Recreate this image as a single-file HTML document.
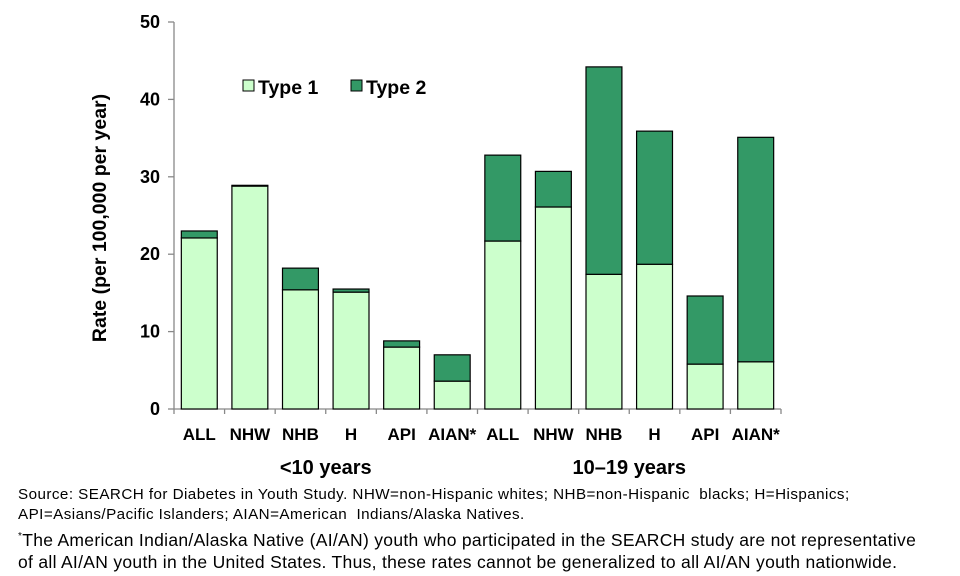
<!DOCTYPE html>
<html><head><meta charset="utf-8"><style>
body{margin:0;background:#fff;width:960px;height:576px;overflow:hidden;font-family:"Liberation Sans",Arial,sans-serif}
.note{position:absolute;left:18px;color:#000;white-space:nowrap}
</style></head><body>
<svg id="chart" width="960" height="576" style="position:absolute;left:0;top:0" font-family="Liberation Sans, Arial, sans-serif"></svg>
<div class="note" style="top:485px;font-size:15.2px;letter-spacing:0.45px;line-height:20px">Source: SEARCH for Diabetes in Youth Study. NHW=non-Hispanic whites; NHB=non-Hispanic&nbsp; blacks; H=Hispanics;<br>API=Asians/Pacific Islanders; AIAN=American&nbsp; Indians/Alaska Natives.</div>
<div class="note" style="top:526px;font-size:17.5px;letter-spacing:0.3px;line-height:22px"><sup style="font-size:10px">*</sup>The American Indian/Alaska Native (AI/AN) youth who participated in the SEARCH study are not representative<br>of all AI/AN youth in the United States. Thus, these rates cannot be generalized to all AI/AN youth nationwide.</div>
<script>
const categories=["ALL","NHW","NHB","H","API","AIAN*","ALL","NHW","NHB","H","API","AIAN*"];
const type1=[22.1,28.8,15.4,15.1,8.0,3.6,21.7,26.1,17.4,18.7,5.8,6.1];
const type2=[0.9,0.1,2.8,0.4,0.8,3.4,11.1,4.6,26.8,17.2,8.8,29.0];
const yTicks=[0,10,20,30,40,50];
const groups=["<10 years","10–19 years"];
const svg=document.getElementById('chart');
const NS="http://www.w3.org/2000/svg";
const x0=174,x1=781,y0=409,yTop=22,ymax=50;
const bw=(x1-x0)/categories.length;
const y=v=>y0-(v/ymax)*(y0-yTop);
const xc=i=>x0+bw*(i+0.5);
function mk(t,a){const e=document.createElementNS(NS,t);for(const k in a)e.setAttribute(k,a[k]);svg.appendChild(e);return e;}
let e;
e=mk('line',{x1:x0,y1:yTop,x2:x0,y2:y0,stroke:'#888','stroke-width':1.3});


e=mk('line',{x1:x0,y1:y0,x2:x1,y2:y0,stroke:'#888','stroke-width':1.3});


yTicks.forEach(v=>{
 e=mk('line',{x1:x0-6,y1:y(v),x2:x0,y2:y(v),stroke:'#888','stroke-width':1.3});
 
 
 e=mk('text',{x:x0-14,y:y(v)+6,'text-anchor':'end','font-size':18,'font-weight':'bold'});
 e.textContent=v;
 
 
});
for(let i=0;i<=categories.length;i++){
 e=mk('line',{x1:x0+bw*i,y1:y0,x2:x0+bw*i,y2:y0+5,stroke:'#888','stroke-width':1.3});
 
 
}
const w=bw*0.71;
categories.forEach((c,i)=>{
 const xl=xc(i)-w/2;
 e=mk('rect',{x:xl,y:y(type1[i]),width:w,height:y0-y(type1[i]),fill:'#ccffcc',stroke:'#000','stroke-width':1.2});
 
 
 e=mk('rect',{x:xl,y:y(type1[i]+type2[i]),width:w,height:y(type1[i])-y(type1[i]+type2[i]),fill:'#339966',stroke:'#000','stroke-width':1.2});
 
 
 e=mk('text',{x:xc(i),y:440,'text-anchor':'middle','font-size':17,'font-weight':'bold'});
 e.textContent=c;
 
 
});
groups.forEach((g,k)=>{
 e=mk('text',{x:x0+bw*(6*k+3),y:474,'text-anchor':'middle','font-size':20,'font-weight':'bold'});
 e.textContent=g;
 
 
});
e=mk('text',{x:106,y:218,'text-anchor':'middle','font-size':19.5,'font-weight':'bold',transform:'rotate(-90 106 218)'});
e.textContent='Rate (per 100,000 per year)';


[['Type 1','#ccffcc',243],['Type 2','#339966',351]].forEach(([t,col,lx])=>{
 e=mk('rect',{x:lx,y:80,width:11,height:11,fill:col,stroke:'#000','stroke-width':1});
 
 
 e=mk('text',{x:lx+15,y:94,'font-size':19.5,'font-weight':'bold'});
 e.textContent=t;
 
 
});
</script>
</body></html>
